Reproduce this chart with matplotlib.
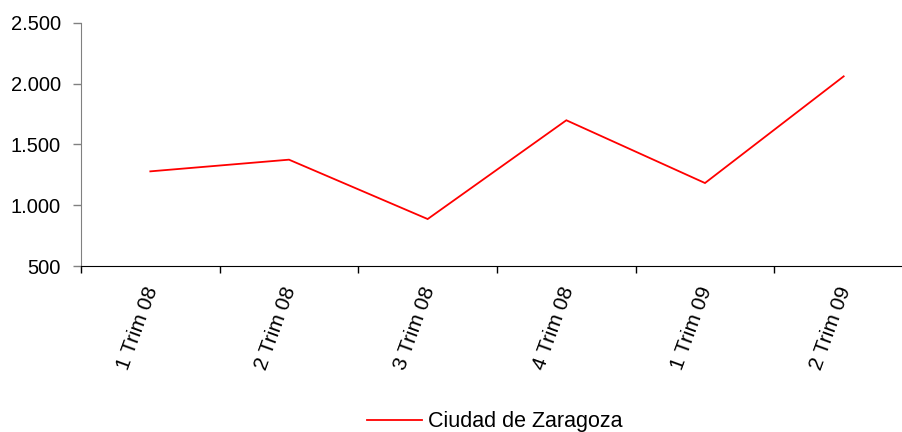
import matplotlib
matplotlib.use("Agg")
import matplotlib.pyplot as plt
from matplotlib.ticker import FuncFormatter
import matplotlib.transforms as mtransforms

categories = ["1 Trim 08", "2 Trim 08", "3 Trim 08", "4 Trim 08", "1 Trim 09", "2 Trim 09"]
values = [1278, 1374, 886, 1698, 1182, 2059]
series_name = "Ciudad de Zaragoza"
yticks = [500, 1000, 1500, 2000, 2500]

plt.rcParams['font.family'] = ['Liberation Sans', 'DejaVu Sans']

W, H = 903, 432
fig = plt.figure(figsize=(W / 100, H / 100), dpi=100)
left, right, top, bottom = 81, 913, 22.7, 266
ax = fig.add_axes([left / W, 1 - bottom / H, (right - left) / W, (bottom - top) / H])

x = list(range(len(categories)))
line, = ax.plot(x, values, color='#ff0000', lw=1.3, label=series_name, solid_joinstyle='miter')

ax.set_xlim(-0.5, len(categories) - 0.5)
ax.set_ylim(500, 2500)
ax.set_yticks(yticks)
ax.yaxis.set_major_formatter(FuncFormatter(lambda v, p: f"{int(v):,}".replace(",", ".")))

ax.set_xticks([i - 0.5 for i in range(len(categories) + 1)])
ax.set_xticklabels([])
trans = mtransforms.blended_transform_factory(ax.transData, ax.transAxes) + \
    mtransforms.ScaledTranslation(2 / 100, -21 / 100, fig.dpi_scale_trans)
for i, c in enumerate(categories):
    ax.text(i, 0, c, rotation=70, rotation_mode='anchor', ha='right', va='center',
            fontsize=15, transform=trans, clip_on=False)

for s in ['top', 'right']:
    ax.spines[s].set_visible(False)
ax.spines['left'].set_color('#808080')
ax.spines['bottom'].set_color('#000000')
ax.tick_params(axis='y', direction='out', length=5.5, width=1, color='#808080', labelsize=14.5, pad=9)
ax.tick_params(axis='x', direction='out', length=5, width=1, color='#000000')

fig.legend(handles=[line], loc='center', bbox_to_anchor=(495 / W, 1 - 422 / H), frameon=False,
           fontsize=15.5, handlelength=2.55, handletextpad=0.28)

fig.savefig("out.png", dpi=100)
